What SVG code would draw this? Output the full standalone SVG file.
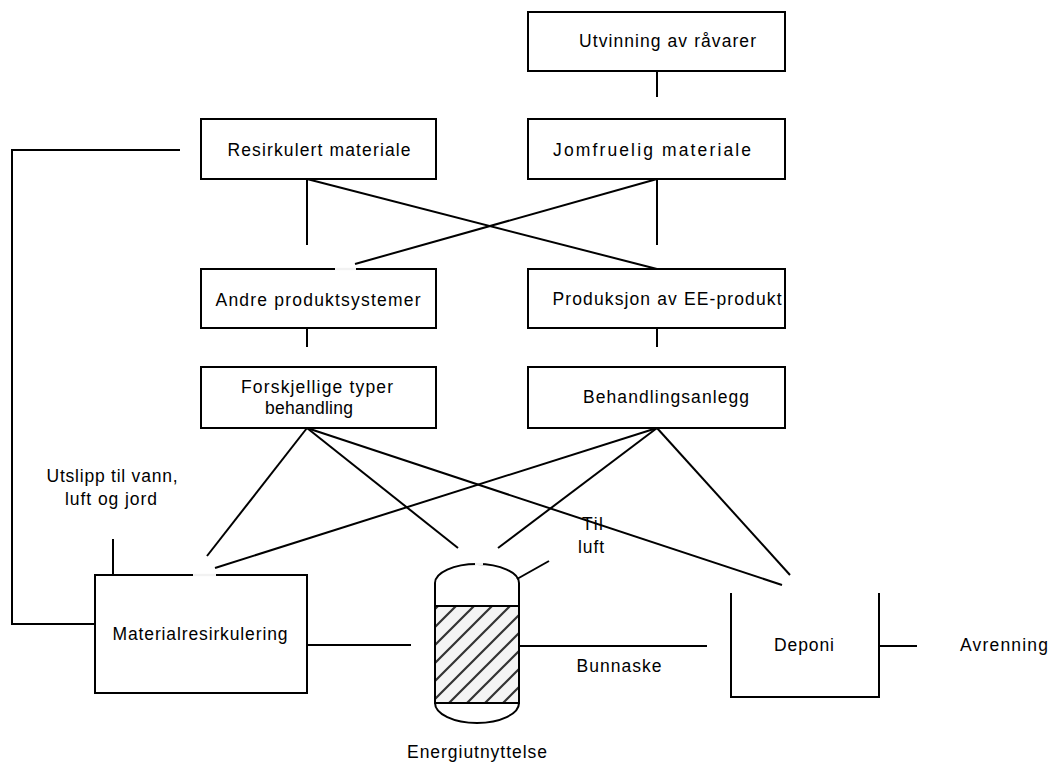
<svg xmlns="http://www.w3.org/2000/svg" width="1052" height="765" viewBox="0 0 1052 765">
  <style>
    .box { fill: #ffffff; stroke: #000000; stroke-width: 2; }
    .ln { fill: none; stroke: #000000; stroke-width: 2; }
    .gap { fill: none; stroke: #f2f2f2; stroke-width: 2.4; }
    .lbl { font-family: "Liberation Sans", Arial, sans-serif; font-size: 17.5px; fill: #000000; }
    .c { text-anchor: middle; }
  </style>
  <defs>
    <pattern id="hatch" patternUnits="userSpaceOnUse" width="18" height="18">
      <rect width="18" height="18" fill="#f4f4f4"/>
      <path d="M0,18 L18,0 M-9,9 L9,-9 M9,27 L27,9" stroke="#333333" stroke-width="2.2"/>
    </pattern>
  </defs>
  <rect width="1052" height="765" fill="#ffffff"/>

  <!-- connectors -->
  <g id="connectors" class="ln">
    <path d="M657,71 V97"/>
    <path d="M180,150 H12 V624 H95"/>
    <path d="M307,179 V245"/>
    <path d="M657,179 V245"/>
    <path d="M307,179 L657,269"/>
    <path d="M657,179 L355,264"/>
    <path d="M307,328 V347"/>
    <path d="M657,328 V347"/>
    <path d="M307,428 L207,556"/>
    <path d="M307,428 L458,548"/>
    <path d="M307,428 L782,585"/>
    <path d="M657,428 L215,568"/>
    <path d="M657,428 L498,548"/>
    <path d="M657,428 L790,575"/>
    <path d="M113,539 V575"/>
    <path d="M307,645 H411"/>
    <path d="M519,646 H707"/>
    <path d="M879,646 H917"/>
    <path d="M517,579 L549,561"/>
  </g>

  <g id="utvinning">
    <rect class="box" x="528" y="12" width="257" height="59"/>
    <text class="lbl" x="579" y="47" textLength="177" lengthAdjust="spacing">Utvinning av råvarer</text>
  </g>
  <g id="resirkulert">
    <rect class="box" x="201" y="119" width="235" height="60"/>
    <text class="lbl c" x="319" y="156" textLength="183" lengthAdjust="spacing">Resirkulert materiale</text>
  </g>
  <g id="jomfruelig">
    <rect class="box" x="528" y="119" width="257" height="60"/>
    <text class="lbl c" x="652" y="156" textLength="198" lengthAdjust="spacing">Jomfruelig materiale</text>
  </g>
  <g id="andre">
    <rect class="box" x="201" y="269" width="235" height="59"/>
    <path class="gap" d="M335,269 H356"/>
    <text class="lbl c" x="318" y="306" textLength="205" lengthAdjust="spacing">Andre produktsystemer</text>
  </g>
  <g id="produksjon">
    <rect class="box" x="528" y="269" width="257" height="59"/>
    <text class="lbl c" x="667" y="305" textLength="229" lengthAdjust="spacing">Produksjon av EE-produkt</text>
  </g>
  <g id="forskjellige">
    <rect class="box" x="201" y="367" width="235" height="61"/>
    <text class="lbl c" x="317" y="393" textLength="152" lengthAdjust="spacing">Forskjellige typer</text>
    <text class="lbl c" x="309" y="414" textLength="88" lengthAdjust="spacing">behandling</text>
  </g>
  <g id="behandlingsanlegg">
    <rect class="box" x="528" y="367" width="257" height="61"/>
    <text class="lbl c" x="666" y="403" textLength="166" lengthAdjust="spacing">Behandlingsanlegg</text>
  </g>
  <g id="utslipp">
    <text class="lbl c" x="112" y="482" textLength="131" lengthAdjust="spacing">Utslipp til vann,</text>
    <text class="lbl c" x="111" y="505" textLength="92" lengthAdjust="spacing">luft og jord</text>
  </g>
  <g id="materialresirkulering">
    <rect class="box" x="95" y="575" width="212" height="118"/>
    <path class="gap" d="M193,575 H216"/>
    <text class="lbl c" x="200" y="640" textLength="175" lengthAdjust="spacing">Materialresirkulering</text>
  </g>
  <g id="energiutnyttelse">
    <path class="ln" d="M435,703 V583 A42,19 0 0 1 519,583 V703 A42,20 0 0 1 435,703 Z" fill="#ffffff"/>
    <rect x="435" y="606" width="84" height="97" fill="url(#hatch)" stroke="#000000" stroke-width="2"/>
    <path class="gap" d="M475,564 H483"/>
    <text class="lbl c" x="477" y="758" textLength="140" lengthAdjust="spacing">Energiutnyttelse</text>
  </g>
  <g id="til-luft">
    <text class="lbl" x="582" y="530" textLength="21" lengthAdjust="spacing">Til</text>
    <text class="lbl" x="578" y="553" textLength="26" lengthAdjust="spacing">luft</text>
  </g>
  <g id="bunnaske">
    <text class="lbl c" x="619" y="672" textLength="85" lengthAdjust="spacing">Bunnaske</text>
  </g>
  <g id="deponi">
    <path class="ln" d="M731,593 V697 H879 V593"/>
    <text class="lbl c" x="804" y="651" textLength="60" lengthAdjust="spacing">Deponi</text>
  </g>
  <g id="avrenning">
    <text class="lbl" x="960" y="651" textLength="88" lengthAdjust="spacing">Avrenning</text>
  </g>
</svg>
